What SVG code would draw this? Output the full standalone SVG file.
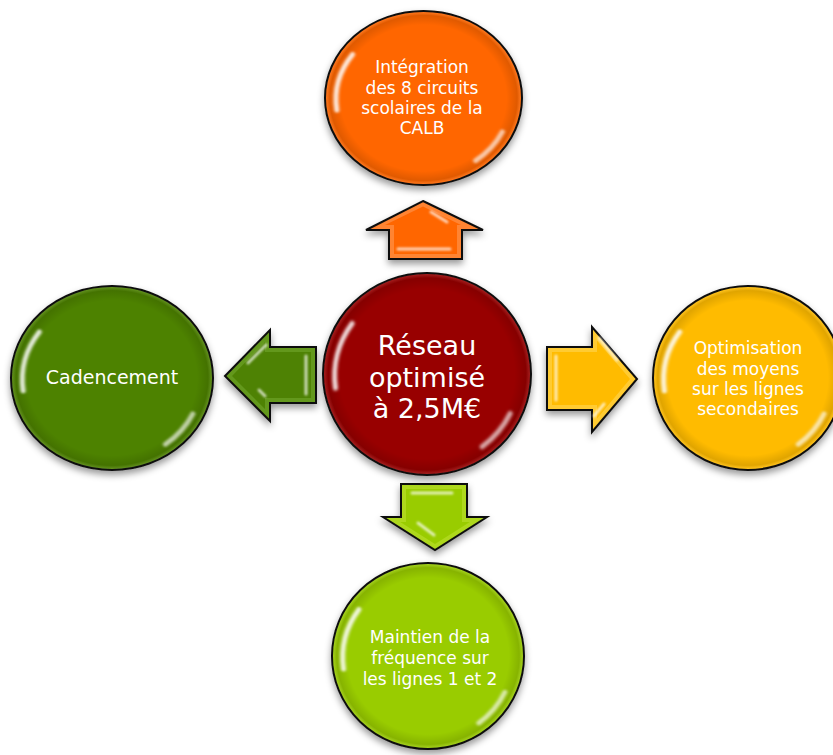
<svg xmlns="http://www.w3.org/2000/svg" xmlns:xlink="http://www.w3.org/1999/xlink" width="833" height="755" viewBox="0 0 833 755">
<defs>
<style>
.node{stroke:#111;stroke-width:2;filter:url(#shadow)}
.rim{fill:url(#rimGrad);stroke:none}
.lbl{font-family:"DejaVu Sans","Liberation Sans",sans-serif;font-size:17px;fill:#fff;text-anchor:middle}
.big{font-size:27px}
.mid{font-size:19px}
.arrowOuter{stroke:#111;stroke-width:2;stroke-linejoin:miter;filter:url(#shadow)}
.gleam{fill:none;stroke:#fff;stroke-linecap:round;stroke-width:3;opacity:.7}
.hl{fill:none;stroke:#fff;stroke-linecap:round;stroke-width:5;vector-effect:non-scaling-stroke}
</style>
<filter id="shadow" x="-20%" y="-20%" width="140%" height="150%">
<feDropShadow dx="0" dy="4" stdDeviation="3.5" flood-color="#000" flood-opacity="0.4"/>
</filter>
<filter id="soft" x="-50%" y="-50%" width="200%" height="200%">
<feGaussianBlur stdDeviation="0.014"/>
</filter>
<filter id="soft2" x="-50%" y="-50%" width="200%" height="200%">
<feGaussianBlur stdDeviation="1"/>
</filter>
<radialGradient id="rimGrad" cx="0.5" cy="0.5" r="0.5">
<stop offset="0" stop-color="#000" stop-opacity="0"/>
<stop offset="0.85" stop-color="#000" stop-opacity="0"/>
<stop offset="0.96" stop-color="#000" stop-opacity="0.12"/>
<stop offset="1" stop-color="#fff" stop-opacity="0.12"/>
</radialGradient>
<g id="gloss" filter="url(#soft)">
<path class="hl" d="M -0.72 -0.5 A 0.89 0.89 0 0 0 -0.88 0.14" opacity="0.85"/>
<path class="hl" d="M 0.80 0.39 A 0.89 0.89 0 0 1 0.53 0.72" opacity="0.65"/>
</g>
</defs>

<g id="connectors">
<g id="arrow-up">
<polygon class="arrowOuter" fill="#FF8430" points="423,201 483,230 462,230 462,259 389,259 389,230 366,230"/>
<polygon fill="#FF6600" points="423,206.6 461,225 457,225 457,254 394,254 394,225 385,225"/>
<g filter="url(#soft2)"><line class="gleam" x1="431" y1="212" x2="447" y2="222"/><line class="gleam" x1="398" y1="249" x2="450" y2="249" opacity="0.5"/></g>
</g>
<g id="arrow-left">
<polygon class="arrowOuter" fill="#64981A" points="225,376 270,330 270,347 316,347 316,403 270,403 270,421"/>
<polygon fill="#4E8204" points="232,376 265,342 265,352 311,352 311,398 265,398 265,409"/>
<g filter="url(#soft2)"><line class="gleam" x1="266" y1="345" x2="248" y2="363"/><line class="gleam" x1="306" y1="356" x2="306" y2="394" opacity="0.5"/><line class="gleam" x1="259" y1="390" x2="265" y2="396" opacity="0.55"/></g>
</g>
<g id="arrow-right">
<polygon class="arrowOuter" fill="#FFCB30" points="547,347 592,347 592,327 637,379 592,432 592,410 547,410"/>
<polygon fill="#FFBB00" points="552,352 597,352 597,340.5 630,379 597,418.5 597,405 552,405"/>
<g filter="url(#soft2)"><line class="gleam" x1="556" y1="356" x2="556" y2="400" opacity="0.55"/><line class="gleam" x1="599" y1="338" x2="617" y2="360"/><line class="gleam" x1="604" y1="404" x2="594" y2="416" opacity="0.55"/></g>
</g>
<g id="arrow-down">
<polygon class="arrowOuter" fill="#AED81E" points="401,484 467,484 467,517 487,517 435,550 383,517 401,517"/>
<polygon fill="#99CC00" points="406,489 462,489 462,522 469.8,522 435,544 400.2,522 406,522"/>
<g filter="url(#soft2)"><line class="gleam" x1="412" y1="493" x2="452" y2="493" opacity="0.5"/><line class="gleam" x1="418" y1="523" x2="434" y2="535"/></g>
</g>
</g>

<g id="node-center">
<ellipse class="node" cx="427" cy="374" rx="104" ry="101" fill="#980000"/>
<ellipse class="rim" cx="427" cy="374" rx="103" ry="100"/>
<use xlink:href="#gloss" href="#gloss" transform="translate(427 374) scale(104 101)"/>
<text class="lbl big" x="427" y="355">Réseau</text>
<text class="lbl big" x="427" y="387">optimisé</text>
<text class="lbl big" x="427" y="418">à 2,5M€</text>
</g>

<g id="node-top">
<ellipse class="node" cx="423.5" cy="98" rx="98.5" ry="87" fill="#FF6600"/>
<ellipse class="rim" cx="423.5" cy="98" rx="97.5" ry="86"/>
<use xlink:href="#gloss" href="#gloss" transform="translate(423.5 98) scale(98.5 87)"/>
<text class="lbl" x="422" y="73">Intégration</text>
<text class="lbl" x="422" y="94">des 8 circuits</text>
<text class="lbl" x="422" y="114">scolaires de la</text>
<text class="lbl" x="422" y="134">CALB</text>
</g>

<g id="node-left">
<ellipse class="node" cx="112" cy="378" rx="101" ry="92" fill="#4E8204"/>
<ellipse class="rim" cx="112" cy="378" rx="100" ry="91"/>
<use xlink:href="#gloss" href="#gloss" transform="translate(112 378) scale(101 92)"/>
<text class="lbl mid" x="112" y="384">Cadencement</text>
</g>

<g id="node-right">
<ellipse class="node" cx="748" cy="378" rx="95" ry="92" fill="#FFBB00"/>
<ellipse class="rim" cx="748" cy="378" rx="94" ry="91"/>
<use xlink:href="#gloss" href="#gloss" transform="translate(748 378) scale(95 92)"/>
<text class="lbl" x="748" y="354">Optimisation</text>
<text class="lbl" x="748" y="375">des moyens</text>
<text class="lbl" x="748" y="395">sur les lignes</text>
<text class="lbl" x="748" y="415">secondaires</text>
</g>

<g id="node-bottom">
<ellipse class="node" cx="428" cy="656" rx="96" ry="93" fill="#99CC00"/>
<ellipse class="rim" cx="428" cy="656" rx="95" ry="92"/>
<use xlink:href="#gloss" href="#gloss" transform="translate(428 656) scale(96 93)"/>
<text class="lbl" x="430" y="643">Maintien de la</text>
<text class="lbl" x="430" y="664">fréquence sur</text>
<text class="lbl" x="430" y="685">les lignes 1 et 2</text>
</g>
</svg>
